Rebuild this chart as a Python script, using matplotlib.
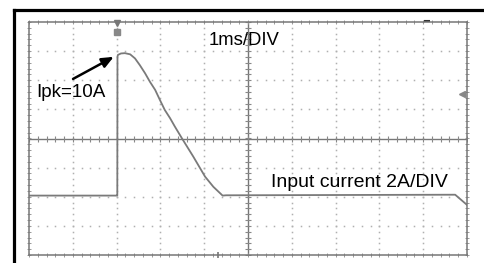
import matplotlib
matplotlib.use("Agg")
import matplotlib.pyplot as plt
from matplotlib.lines import Line2D
import numpy as np

plt.rcParams['font.family'] = ['Liberation Sans', 'DejaVu Sans']

# trace, in divisions (x: 1ms/DIV, y: 2A/DIV, 0 = centre line)
t_div = [0, 2.0, 2.016, 2.02, 2.03, 2.10, 2.19, 2.31, 2.42, 2.53, 2.65, 2.76, 2.88, 2.99,
         3.10, 3.22, 3.33, 3.49, 3.75, 4.02, 4.21, 4.42, 4.50, 9.73, 10.0]
i_div = [-1.96, -1.96, -1.96, 2.81, 2.87, 2.92, 2.93, 2.89, 2.75, 2.52, 2.24, 1.95, 1.67, 1.32,
         0.98, 0.70, 0.41, 0.01, -0.62, -1.31, -1.66, -1.96, -1.95, -1.93, -2.28]

label_time = "1ms/DIV"
label_peak = "Ipk=10A"
label_scale = "Input current 2A/DIV"

W, H = 484, 263
fig = plt.figure(figsize=(W / 100, H / 100), dpi=100)

# outer black frame (cut off at right and bottom)
fig.add_artist(Line2D([14 / W, 14 / W], [0, 1 - 10 / H], color="black", lw=2.3))
fig.add_artist(Line2D([14 / W, 1], [1 - 10 / H, 1 - 10 / H], color="black", lw=2.3))

ax = fig.add_axes([29 / W, 8 / H, 438 / W, 233 / H])
ax.set_xlim(0, 10)
ax.set_ylim(-4, 4)
for s in ax.spines.values():
    s.set_color("#777777")
    s.set_linewidth(1.1)
ax.set_xticks([])
ax.set_yticks([])

grid_c = "#b0b0b0"
minor_x = np.arange(0, 10.01, 0.2)
minor_y = np.arange(-4, 4.01, 0.2)
# dotted graticule
for gx in range(1, 10):
    if gx == 5:
        continue
    ax.plot(np.full_like(minor_y, gx), minor_y, ls="none", marker="s", ms=1.1, color=grid_c, mew=0)
for gy in range(-3, 4):
    if gy == 0:
        continue
    ax.plot(minor_x, np.full_like(minor_x, gy), ls="none", marker="s", ms=1.1, color=grid_c, mew=0)

# centre cross with ticks
ax.axhline(0, color="#777777", lw=1.0)
ax.axvline(5, color="#777777", lw=1.0)
ax.plot(minor_x, np.zeros_like(minor_x), ls="none", marker="|", ms=4, color="#888888", mew=0.8)
ax.plot(np.full_like(minor_y, 5), minor_y, ls="none", marker="_", ms=4, color="#888888", mew=0.8)

# border ticks
ax.plot(minor_x, np.full_like(minor_x, 4), ls="none", marker="|", ms=3, color="#999999", mew=0.7, clip_on=False)
ax.plot(minor_x, np.full_like(minor_x, -4), ls="none", marker="|", ms=3, color="#999999", mew=0.7, clip_on=False)
ax.plot(np.full_like(minor_y, 0), minor_y, ls="none", marker="_", ms=3, color="#999999", mew=0.7, clip_on=False)
ax.plot(np.full_like(minor_y, 10), minor_y, ls="none", marker="_", ms=3, color="#999999", mew=0.7, clip_on=False)

# trace
ax.plot(t_div, i_div, color="#7a7a7a", lw=1.3, solid_joinstyle="round")

# screen markers
ax.plot([2.0], [3.95], marker="v", ms=4, color="#777777", clip_on=False)
ax.plot([2.0], [3.65], marker="s", ms=4.5, color="#888888", clip_on=False)
ax.plot([9.89], [1.53], marker="<", ms=4, color="#888888", clip_on=False)
ax.plot([9.09], [4.03], marker="_", ms=5, color="#333333", mew=1.5, clip_on=False)
ax.plot([4.32], [-4.0], marker="|", ms=4, color="#777777", mew=1.2, clip_on=False)

# annotations
ax.text(4.09, 3.21, label_time, fontsize=13.3, va="baseline", ha="left")
ax.text(0.16, 1.42, label_peak, fontsize=13.6, va="baseline", ha="left")
ax.text(5.53, -1.67, label_scale, fontsize=14.0, va="baseline", ha="left")
ax.annotate("", xy=(1.99, 2.85), xytext=(0.95, 2.0),
            arrowprops=dict(arrowstyle="-|>,head_length=0.7,head_width=0.3", color="black", lw=1.8))

fig.savefig("out.png", dpi=100)
